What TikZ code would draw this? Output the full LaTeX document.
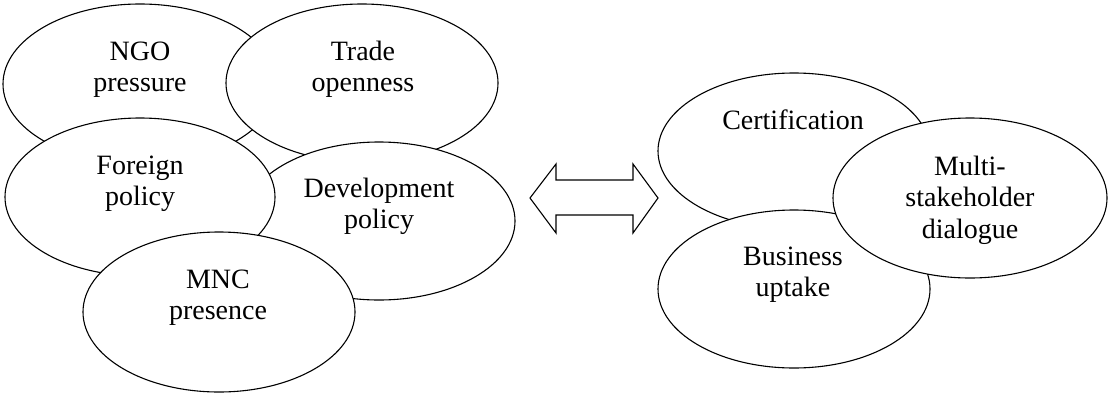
\documentclass[tikz,border=0pt]{standalone}
\usepackage{fontspec}
\setmainfont{Liberation Serif}
\usetikzlibrary{shapes.geometric}
\tikzset{
  blob/.style={ellipse, draw=black, fill=white, line width=1.1pt, inner sep=0pt},
  lbl/.style={inner sep=0pt, anchor=base, font=\fontsize{28}{31.5}\selectfont},
}
\newcommand{\twoline}[1]{\begin{tabular}[t]{@{}c@{}}#1\end{tabular}}
\begin{document}
\begin{tikzpicture}[x=1pt,y=-1pt]
\useasboundingbox (0,0) rectangle (1108,394);
\fill[white] (0,0) rectangle (1108,394);
% left cluster
\node[blob, minimum width=274pt, minimum height=160pt] (ngo) at (140,84) {};
\node[blob, minimum width=272pt, minimum height=158pt] (trade) at (362,83) {};
\node[blob, minimum width=272pt, minimum height=158pt] (dev) at (379,221) {};
\node[blob, minimum width=270pt, minimum height=158pt] (foreign) at (140,197) {};
\node[blob, minimum width=272pt, minimum height=160pt] (mnc) at (219,312) {};
\node[lbl] (ngo-t) at (140,60) {\twoline{NGO\\pressure}};
\node[lbl] (trade-t) at (363,60) {\twoline{Trade\\openness}};
\node[lbl] (dev-t) at (379,197) {\twoline{Development\\policy}};
\node[lbl] (foreign-t) at (140,174) {\twoline{Foreign\\policy}};
\node[lbl] (mnc-t) at (218,288) {\twoline{MNC\\presence}};
% arrow
\draw[line width=1.1pt, fill=white, line join=miter]
  (530,198) -- (556,164) -- (556,180) -- (633,180) -- (633,164) -- (658,198)
  -- (633,233) -- (633,215) -- (556,215) -- (556,233) -- cycle;
% right cluster
\node[blob, minimum width=272pt, minimum height=156pt] (cert) at (794,151) {};
\node[blob, minimum width=272pt, minimum height=158pt] (bus) at (794,289) {};
\node[blob, minimum width=274pt, minimum height=160pt] (multi) at (970,198) {};
\node[lbl] (cert-t) at (793,129) {Certification};
\node[lbl] (bus-t) at (793,265) {\twoline{Business\\uptake}};
\node[lbl] (multi-t) at (970,175) {\twoline{Multi-\\stakeholder\\dialogue}};
\end{tikzpicture}
\end{document}
